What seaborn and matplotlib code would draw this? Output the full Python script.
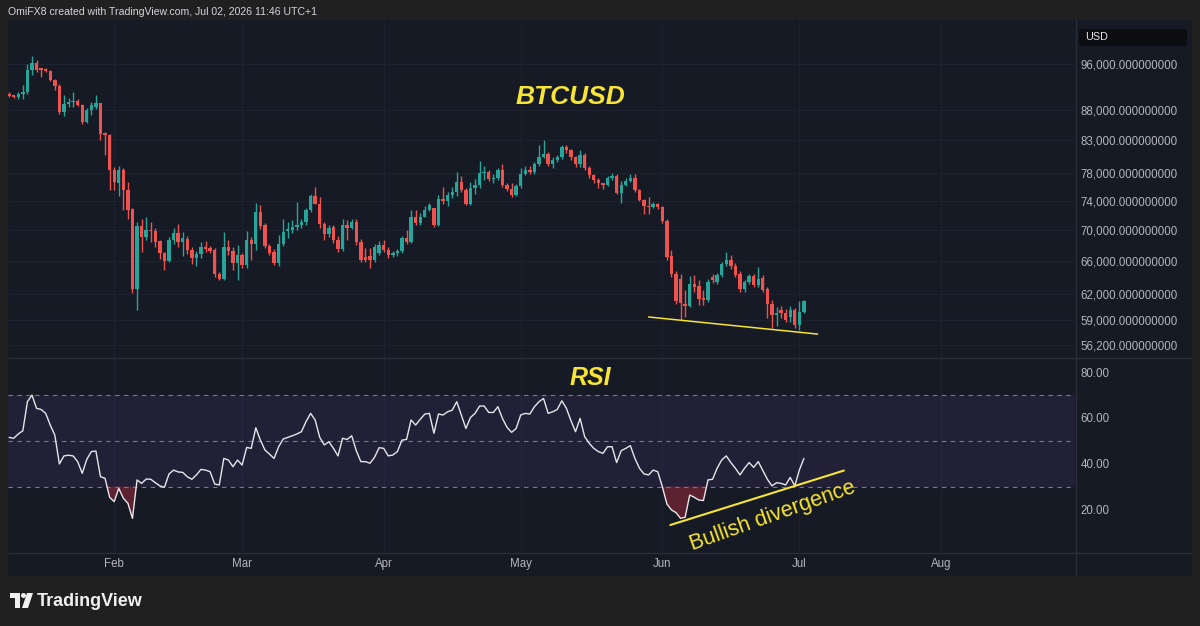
import matplotlib
matplotlib.use("Agg")
import matplotlib.pyplot as plt
import matplotlib.dates as mdates
from matplotlib.lines import Line2D
from matplotlib.patches import Rectangle, Polygon, Ellipse, FancyBboxPatch
from matplotlib.ticker import NullLocator
import numpy as np
import pandas as pd
import seaborn as sns

# daily BTCUSD candles, Jan 9 - Jul 2 2026
dates = pd.date_range("2026-01-09", "2026-07-02", freq="D")

opens = [
    # Jan
    90600, 90300, 90200, 90600, 91000, 94900, 96200, 95100, 95000, 94800, 93100, 92000,
    87600, 89000, 89300, 89500, 88800, 86000, 88000, 88500, 89100, 84200, 83900,
    # Feb
    78500, 76500, 78500, 75500, 72800, 62600, 70500, 69000, 70000, 69800, 68500, 67000,
    66000, 68600, 69600, 68400, 68800, 67400, 66300, 66800, 67800, 67600, 67400, 64400,
    63800, 67700, 67300, 65700,
    # Mar
    66700, 65500, 68700, 68100, 72400, 70600, 67900, 67100, 65700, 68200, 69800, 70000,
    70400, 70700, 71000, 72700, 74700, 73600, 70800, 69500, 70400, 68600, 67500, 70600,
    70300, 71100, 68400, 66500, 66600, 66100, 67000,
    # Apr
    68000, 67400, 66700, 67000, 67200, 68900, 68400, 71800, 70900, 71800, 72700, 73000,
    70650, 74300, 73900, 74800, 75200, 76700, 75500, 73600, 75800, 76200, 78000, 78100,
    77100, 77300, 78500, 76300, 75700, 74800,
    # May
    76100, 77900, 78500, 78200, 79300, 80400, 80900, 79400, 80000, 80400, 81900, 81500,
    80400, 79300, 80700, 78800, 77700, 77000, 76500, 76300, 77200, 77500, 75100, 76300,
    76900, 77200, 75500, 74100, 73200, 73100, 73500,
    # Jun
    73100, 71200, 66600, 64400, 63700, 60800, 60600, 63200, 62900, 61500, 61200, 64000,
    63400, 64200, 65600, 66100, 65400, 64400, 62600, 63400, 64100, 63000, 63900, 62600,
    60800, 59500, 60100, 59800, 59300, 60100,
    # Jul
    58400, 59900,
]
highs = [
    91100, 90500, 91000, 92300, 96000, 97500, 96800, 95300, 95200, 95000, 93300, 92400,
    90500, 90000, 91000, 89900, 89000, 88300, 89300, 90500, 89200, 84400, 84000,
    78900, 79000, 78800, 76700, 73000, 71000, 71500, 71800, 71000, 70200, 68700, 67100,
    69000, 70300, 70800, 69700, 69200, 67800, 67200, 68400, 68500, 67900, 67600, 64600,
    69700, 68600, 67700, 68000,
    67000, 69900, 69100, 73700, 73400, 70900, 68200, 67500, 69300, 71500, 71000, 71300,
    73800, 71500, 73000, 74900, 76000, 74500, 71100, 70600, 70600, 69200, 71500, 71300,
    71500, 71400, 68800, 67600, 67600, 68100, 68500,
    68600, 67700, 67300, 67500, 69200, 70000, 72700, 72700, 72300, 73300, 73700, 73000,
    74800, 76000, 75300, 76000, 78100, 77500, 75800, 76700, 77100, 79800, 79000, 78500,
    77800, 78800, 79300, 76600, 76500, 76400,
    78800, 79000, 79000, 79700, 82300, 83000, 81200, 80500, 80700, 82300, 82300, 81700,
    80600, 81500, 81000, 79000, 77900, 77200, 76600, 77600, 78000, 77800, 76800, 77300,
    77800, 77900, 75700, 74300, 74500, 73800, 73700,
    73300, 71400, 67400, 64700, 64300, 62400, 64100, 64200, 63600, 62400, 63700, 64300,
    64500, 65800, 67100, 66700, 65700, 64700, 63600, 64400, 64300, 65200, 64200, 62800,
    61300, 60400, 60600, 60200, 60600, 60300,
    61100, 61300,
]
lows = [
    90100, 90000, 89800, 89800, 90700, 94000, 94500, 93600, 94500, 92900, 91400, 87300,
    86900, 88500, 88400, 88600, 85600, 85800, 87200, 88200, 83100, 80700, 75500,
    75500, 74700, 72700, 71500, 62100, 60100, 67100, 68600, 68400, 67800, 66200, 64800,
    65800, 68100, 67800, 66600, 66800, 65600, 65400, 66400, 67100, 67000, 64000, 63600,
    63600, 66700, 64800, 63600,
    65100, 65100, 66100, 67400, 70100, 67600, 66700, 65500, 65300, 67900, 68900, 69600,
    70000, 70300, 70700, 72400, 73500, 70300, 68600, 69000, 68300, 67100, 67300, 68600,
    70100, 68000, 65900, 65800, 65100, 65900, 66700,
    67100, 66400, 66500, 66600, 67000, 68200, 68300, 70600, 70700, 71700, 72500, 70400,
    70500, 73600, 73200, 74400, 74700, 75200, 73400, 73400, 75000, 75800, 77000, 76900,
    76600, 77000, 76000, 75400, 74500, 74600,
    75800, 77700, 77800, 77800, 79000, 80200, 79000, 78800, 79600, 80100, 81000, 80000,
    78900, 78900, 78400, 77300, 76500, 75800, 75600, 76100, 77000, 74900, 73700, 76100,
    76700, 75200, 73900, 72200, 72200, 73000, 72900,
    70900, 66100, 64000, 60800, 59000, 59300, 60400, 62200, 60700, 60700, 61000, 63300,
    63200, 64000, 65300, 65000, 64000, 62200, 62200, 63200, 62800, 62800, 62200, 59200,
    58100, 58300, 59200, 58700, 58700, 58100,
    57800, 59700,
]
closes = [
    90300, 90200, 90600, 91000, 94900, 96200, 95000, 95000, 94800, 93100, 92000, 87600,
    89000, 89300, 89500, 88800, 86000, 88000, 88800, 89100, 84000, 83900, 78450,
    76700, 78500, 75500, 72700, 62600, 70500, 69000, 70000, 69800, 68400, 67000, 66000,
    68600, 69600, 68400, 68900, 67400, 66300, 66800, 67800, 67500, 67300, 64400, 63800,
    67700, 67300, 65700, 66700,
    65500, 68600, 68100, 72400, 70500, 67900, 67000, 65700, 68200, 69700, 70100, 70400,
    70700, 71000, 72700, 74700, 73600, 70800, 69500, 70200, 68600, 67500, 70600, 70300,
    71100, 68400, 66100, 66100, 66100, 67800, 68000,
    67400, 66700, 67000, 67200, 68900, 68400, 71800, 70900, 71800, 72700, 73400, 70650,
    74300, 73900, 74800, 75200, 76700, 75500, 73600, 75800, 76200, 78000, 78100, 77100,
    77300, 78500, 76300, 75700, 74800, 76100,
    77900, 78500, 78200, 79300, 80400, 80900, 79400, 80000, 80400, 81900, 81500, 80400,
    79300, 80700, 78800, 77700, 77000, 76500, 76300, 77200, 77500, 75100, 76300, 76900,
    77200, 75500, 74100, 73200, 73100, 73500, 73100,
    71200, 66500, 64400, 61100, 60900, 60600, 63200, 62800, 61400, 61200, 63400, 63600,
    64200, 65600, 66100, 65300, 64200, 62600, 63400, 64100, 63000, 63800, 62400, 60800,
    59500, 59800, 59700, 59000, 60100, 58400,
    59900, 61100,
]
rsi = [
    # Jan
    51.5, 51.1, 53.0, 54.4, 67.1, 70.0, 64.2, 63.7, 62.0, 56.9, 52.5, 39.9, 43.4, 43.7,
    43.4, 40.9, 35.8, 41.9, 45.3, 45.5, 34.3, 33.6, 25.3,
    # Feb
    23.4, 29.2, 24.9, 22.7, 16.1, 32.9, 31.4, 33.3, 33.2, 31.7, 30.3, 29.7, 35.5, 37.2,
    36.4, 36.2, 34.3, 33.2, 35.1, 37.5, 37.2, 36.5, 31.1, 30.7, 42.3, 41.6, 38.7, 41.6,
    # Mar
    39.4, 47.1, 46.7, 55.7, 50.3, 46.0, 44.2, 42.3, 47.4, 50.8, 51.5, 52.2, 53.0, 54.0,
    58.4, 62.0, 59.1, 51.5, 48.2, 49.6, 46.7, 43.4, 51.1, 50.6, 52.2, 45.7, 40.9, 40.9,
    40.2, 42.8, 47.0,
    # Apr
    46.7, 43.4, 43.8, 45.3, 50.3, 50.6, 59.1, 56.9, 59.4, 61.7, 62.0, 53.3, 61.7, 61.3,
    62.7, 63.4, 67.1, 61.3, 55.4, 60.2, 62.0, 65.2, 65.2, 62.4, 62.4, 64.9, 59.8, 55.9,
    53.7, 55.4,
    # May
    61.3, 62.0, 61.7, 64.9, 67.1, 68.5, 62.0, 62.7, 63.7, 67.5, 64.2, 58.8, 54.0, 59.8,
    51.8, 48.9, 46.7, 45.3, 44.5, 47.4, 47.4, 40.5, 45.7, 46.7, 47.9, 42.3, 38.0, 35.5,
    35.1, 37.2, 36.5,
    # Jun
    30.0, 22.4, 19.8, 18.6, 16.1, 16.6, 26.3, 25.3, 24.1, 23.9, 32.9, 33.2, 38.0, 41.6,
    43.4, 40.5, 38.0, 35.1, 38.0, 40.5, 38.4, 40.9, 37.0, 33.2, 30.3, 31.7, 31.4, 30.7,
    34.0, 30.3,
    # Jul
    37.2, 42.3,
]

price_ticks = [96000, 88000, 83000, 78000, 74000, 70000, 66000, 62000, 59000, 56200]
rsi_ticks = [80, 60, 40, 20]
rsi_levels = [70, 50, 30]
month_ticks = pd.to_datetime(["2026-02-01", "2026-03-01", "2026-04-01", "2026-05-01",
                              "2026-06-01", "2026-07-01", "2026-08-01"])
month_labels = ["Feb", "Mar", "Apr", "May", "Jun", "Jul", "Aug"]

# hand drawn trend lines on the original chart
support_dates = pd.to_datetime(["2026-05-29", "2026-07-05"])
support_prices = [59300, 57400]
div_dates = pd.to_datetime(["2026-06-02 18:00", "2026-07-10 18:00"])
div_rsi = [13.2, 37.0]

# colours
OUTER = "#202020"
PANE = "#161a25"
GRID = "#1d2130"
SEP = "#2a2e39"
TXT = "#b2b5be"
UP = "#26a69a"
DOWN = "#ef5350"
YEL = "#f7e433"

W, H = 1200, 626


def fx(px):
    return px / W


def fy(py):
    return 1 - py / H


def box(x0, y0, x1, y1):
    return [fx(x0), fy(y1), (x1 - x0) / W, (y1 - y0) / H]


sns.set_theme(style="dark", rc={"axes.facecolor": PANE, "figure.facecolor": OUTER})
plt.rcParams["font.family"] = ["Liberation Sans", "DejaVu Sans"]

fig = plt.figure(figsize=(12, 6.26), dpi=100)
fig.add_artist(Rectangle((fx(8), fy(576)), (1184) / W, (576 - 20) / H,
                         transform=fig.transFigure, facecolor=PANE, edgecolor="none", zorder=0))

ax_p = fig.add_axes(box(8, 21, 1075, 357))
ax_r = fig.add_axes(box(8, 358, 1075, 552), sharex=ax_p)

xs = mdates.date2num(dates)
o = np.array(opens, float)
h = np.array(highs, float)
l = np.array(lows, float)
c = np.array(closes, float)
up = c >= o
cols = np.where(up, UP, DOWN)
bottoms = np.minimum(o, c)
heights = np.maximum(np.abs(c - o), bottoms * 0.0025)

# candles
ax_p.vlines(xs, l, h, colors=cols, linewidth=1.0, zorder=3)
ax_p.bar(xs, heights, bottom=bottoms, width=0.74, color=cols, linewidth=0, zorder=4)
ax_p.plot(mdates.date2num(support_dates), support_prices, color=YEL, lw=1.1, zorder=5)

ax_p.set_yscale("log")
ax_p.set_ylim(54950, 104200)
ax_p.yaxis.set_minor_locator(NullLocator())
ax_p.set_yticks(price_ticks)
ax_p.set_yticklabels([f"{v:,.9f}" for v in price_ticks])
ax_p.yaxis.tick_right()
ax_p.tick_params(axis="y", length=0, pad=4.2, colors=TXT, labelsize=8.3)
ax_p.tick_params(axis="x", length=0, labelbottom=False)
ax_p.grid(True, axis="both", color=GRID, linewidth=0.8)

# RSI pane
r = np.array(rsi, float)
ax_r.axhspan(30, 70, color="#7e57c2", alpha=0.11, lw=0, zorder=1)
for lv in rsi_levels:
    ax_r.axhline(lv, color="#787b86", lw=0.8, ls=(0, (4, 4)), zorder=2)
ax_r.fill_between(xs, r, 30, where=r < 30, interpolate=True, color="#f23645",
                  alpha=0.32, lw=0, zorder=2)
sns.lineplot(x=xs, y=r, ax=ax_r, color="#e6e6ea", linewidth=1.0, zorder=4)
ax_r.plot(mdates.date2num(div_dates), div_rsi, color=YEL, lw=1.5, zorder=5)
ax_r.set_xlabel("")
ax_r.set_ylabel("")
ax_r.set_ylim(1.4, 86.2)
ax_r.set_yticks(rsi_ticks)
ax_r.set_yticklabels([f"{v:.2f}" for v in rsi_ticks])
ax_r.yaxis.tick_right()
ax_r.tick_params(axis="y", length=0, pad=4.2, colors=TXT, labelsize=8.3)
ax_r.grid(True, axis="x", color=GRID, linewidth=0.8)
ax_r.grid(False, axis="y")

x0 = pd.Timestamp("2026-01-08 18:00")
x1 = x0 + pd.Timedelta(days=233.6)
ax_r.set_xlim(mdates.date2num(x0), mdates.date2num(x1))
ax_r.set_xticks(mdates.date2num(month_ticks))
ax_r.set_xticklabels(month_labels)
ax_r.tick_params(axis="x", length=0, pad=4, colors=TXT, labelsize=8.3)

for ax in (ax_p, ax_r):
    for s in ax.spines.values():
        s.set_visible(False)

# separators
for y in (357.5, 552.5):
    fig.add_artist(Line2D([fx(8), fx(1192)], [fy(y), fy(y)], color=SEP, lw=1))
fig.add_artist(Line2D([fx(1075.5), fx(1075.5)], [fy(20), fy(576)], color=SEP, lw=1))

# texts
fig.text(fx(8), fy(12), "OmiFX8 created with TradingView.com, Jul 02, 2026 11:46 UTC+1",
         color="#d1d4dc", fontsize=7.6, va="center", ha="left")
fig.add_artist(FancyBboxPatch((fx(1079), fy(46)), 108 / W, 17 / H,
                              boxstyle="round,pad=0,rounding_size=0.003",
                              transform=fig.transFigure, facecolor="#0c0d10", edgecolor="none"))
fig.text(fx(1085), fy(37.5), "USD", color="#e6e6e6", fontsize=7.8, va="center", ha="left")
fig.text(fx(570), fy(97), "BTCUSD", color=YEL, fontsize=19, fontweight="bold",
         fontstyle="italic", ha="center", va="center")
fig.text(fx(590), fy(378), "RSI", color=YEL, fontsize=18, fontweight="bold",
         fontstyle="italic", ha="center", va="center")
fig.text(fx(773), fy(516), "Bullish divergence", color=YEL, fontsize=15.5,
         rotation=19.5, rotation_mode="anchor", ha="center", va="center")

# TradingView logo
logo = [(10, 593), (20, 593), (20, 608), (15, 608), (15, 598), (10, 598)]
fig.add_artist(Polygon([(fx(a), fy(b)) for a, b in logo], closed=True,
                       transform=fig.transFigure, facecolor="#f0f0f0", edgecolor="none"))
fig.add_artist(Ellipse((fx(23.5), fy(595.5)), 5 / W, 5 / H, transform=fig.transFigure,
                       facecolor="#f0f0f0", edgecolor="none"))
slash = [(27, 593), (33, 593), (28, 608), (22, 608)]
fig.add_artist(Polygon([(fx(a), fy(b)) for a, b in slash], closed=True,
                       transform=fig.transFigure, facecolor="#f0f0f0", edgecolor="none"))
fig.text(fx(37), fy(601), "TradingView", color="#f0f0f0", fontsize=13, fontweight="bold",
         va="center", ha="left")

fig.savefig("out.png", dpi=100, facecolor=fig.get_facecolor())
